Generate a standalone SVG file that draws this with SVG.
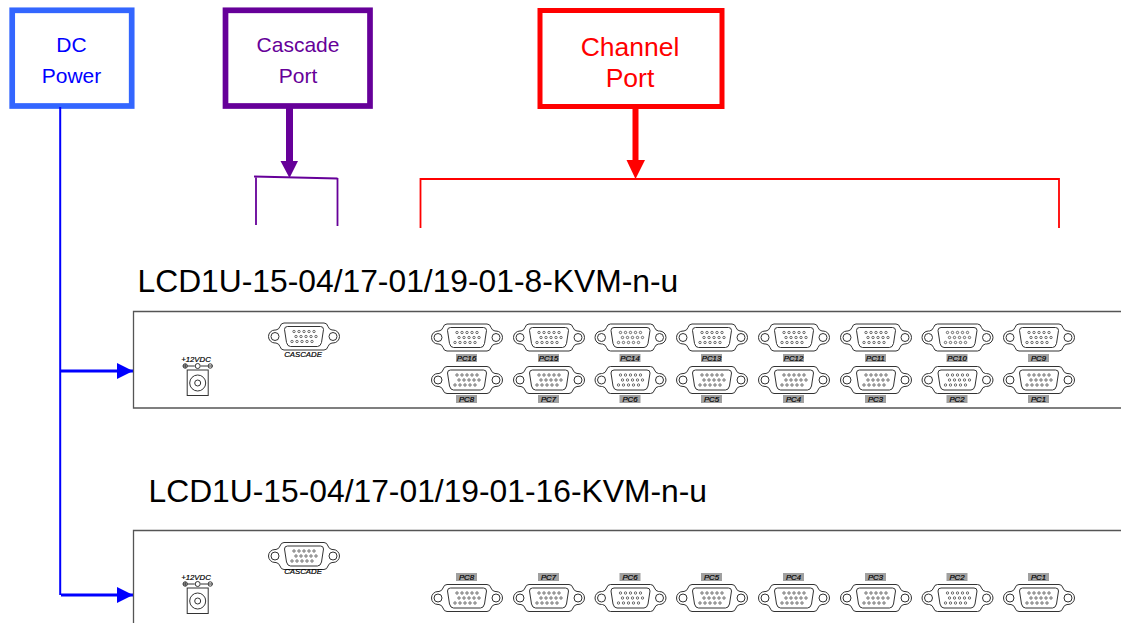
<svg xmlns="http://www.w3.org/2000/svg" width="1121" height="623" viewBox="0 0 1121 623">
<style>
text{font-family:"Liberation Sans",Arial,sans-serif}
.box{fill:#fff}
.title{font-size:31.800px;fill:#000}
.panel{fill:#fff;stroke:#555;stroke-width:1.300}
.ln{fill:none;stroke:#333;stroke-width:1}
.pl{font-size:7.800px;font-style:italic;fill:#000;text-anchor:middle;stroke:#000;stroke-width:.2}
.tag{fill:#a0a0a0}
.pin{fill:none;stroke:#333;stroke-width:.7}
</style>
<defs>
<g id="db15">
<path class="ln" d="M-20-13.500H20Q23-13.500 24-10Q25-7 28-6.500H29A6.500 6.500 0 0 1 29 6.500H28Q25 7 24 10Q23 13.500 20 13.500H-20Q-23 13.500-24 10Q-25 7-28 6.500H-29A6.500 6.500 0 0 1-29-6.500H-28Q-25-7-24-10Q-23-13.500-20-13.500Z"/>
<circle class="ln" cx="-29" cy="0" r="4"/>
<circle class="ln" cx="29" cy="0" r="4"/>
<path class="ln" d="M-16.500-10H16.500Q19.500-10 19.500-7L17.500 6Q16.500 10 13.500 10H-13.500Q-16.500 10-17.500 6L-19.500-7Q-19.500-10-16.500-10Z"/>
<g class="pin">
<circle cx="-10" cy="-5" r="1.200"/><circle cx="-5" cy="-5" r="1.200"/><circle cx="0" cy="-5" r="1.200"/><circle cx="5" cy="-5" r="1.200"/><circle cx="10" cy="-5" r="1.200"/>
<circle cx="-8" cy="0" r="1.200"/><circle cx="-3" cy="0" r="1.200"/><circle cx="2" cy="0" r="1.200"/><circle cx="7" cy="0" r="1.200"/><circle cx="12" cy="0" r="1.200"/>
<circle cx="-12" cy="5" r="1.200"/><circle cx="-7" cy="5" r="1.200"/><circle cx="-2" cy="5" r="1.200"/><circle cx="3" cy="5" r="1.200"/><circle cx="8" cy="5" r="1.200"/>
</g>
</g>
<g id="jack">
<rect class="ln" x="-10.500" y="0" width="21" height="25.500"/>
<circle class="ln" cx="0" cy="13" r="8"/>
<circle class="ln" cx="0" cy="13" r="3"/>
<path class="ln" d="M-10-4H-3M3-4H10"/>
<circle class="ln" cx="-12.500" cy="-4" r="2.200"/>
<path class="ln" d="M-14.700-4H-10.300M-12.500-6.200V-1.800"/>
<circle class="ln" cx="12.500" cy="-4" r="2.200"/>
<path class="ln" d="M10.300-4H14.700"/>
<circle class="ln" cx="0" cy="-4" r="2.500"/>
</g>
<marker id="ab" markerUnits="userSpaceOnUse" markerWidth="20" markerHeight="16" refX="16" refY="8" orient="auto"><path d="M0 0L16 8L0 16Z" fill="#0000ff"/></marker>
</defs>

<g id="node-dc-power">
<rect class="box" x="12.200" y="10.300" width="119.500" height="95.700" stroke="#3366ff" stroke-width="5.700"/>
<text x="71.500" y="51.500" font-size="21" fill="#0000ff" text-anchor="middle">DC</text>
<text x="71.500" y="83" font-size="21" fill="#0000ff" text-anchor="middle">Power</text>
</g>
<g id="node-cascade-port">
<rect class="box" x="225.500" y="10.300" width="144.500" height="95.700" stroke="#660099" stroke-width="5.700"/>
<text x="298" y="51.500" font-size="21" fill="#660099" text-anchor="middle">Cascade</text>
<text x="298" y="83" font-size="21" fill="#660099" text-anchor="middle">Port</text>
</g>
<g id="node-channel-port">
<rect class="box" x="540" y="10.500" width="182" height="96" stroke="#ff0000" stroke-width="5"/>
<text x="630" y="56" font-size="26.500" fill="#ff0000" text-anchor="middle">Channel</text>
<text x="630" y="87" font-size="26.500" fill="#ff0000" text-anchor="middle">Port</text>
</g>

<g id="connectors">
<path d="M60.200 107V595" fill="none" stroke="#0000ff" stroke-width="2"/>
<path d="M61 371H133" fill="none" stroke="#0000ff" stroke-width="3" marker-end="url(#ab)"/>
<path d="M61 595H133" fill="none" stroke="#0000ff" stroke-width="3" marker-end="url(#ab)"/>
<path d="M289.500 107V162" fill="none" stroke="#660099" stroke-width="7"/>
<path d="M280.500 161H298L289.500 178Z" fill="#660099"/>
<path d="M254 176.500L337.500 178.500M256 176.500V225M337.500 178V226" fill="none" stroke="#660099" stroke-width="1.800"/>
<path d="M635.500 107V162" fill="none" stroke="#ff0000" stroke-width="6"/>
<path d="M626.500 160H645L635.500 179Z" fill="#ff0000"/>
<path d="M420.500 228V179H1059V228" fill="none" stroke="#ff0000" stroke-width="1.800"/>
</g>

<g id="node-title-8">
<text class="title" x="137.500" y="292">LCD1U-15-04/17-01/19-01-8-KVM-n-u</text>
</g>
<g id="node-title-16">
<text class="title" x="148.500" y="502">LCD1U-15-04/17-01/19-01-16-KVM-n-u</text>
</g>

<g id="node-panel-8">
<path class="panel" d="M1121 311.500H133.500V408H1121"/>
<text class="pl" x="196" y="362">+12VDC</text>
<use href="#jack" x="197.700" y="370"/>
<use href="#db15" x="304" y="336.500"/>
<text class="pl" x="303" y="357">CASCADE</text>
<g id="tags-upper" class="tag">
<rect x="456" y="354" width="21" height="8"/><rect x="538" y="354" width="21" height="8"/><rect x="619.500" y="354" width="21" height="8"/><rect x="701" y="354" width="21" height="8"/><rect x="783" y="354" width="21" height="8"/><rect x="865" y="354" width="21" height="8"/><rect x="946.500" y="354" width="21" height="8"/><rect x="1028" y="354" width="21" height="8"/>
<rect x="456" y="395" width="21" height="8"/><rect x="538" y="395" width="21" height="8"/><rect x="619.500" y="395" width="21" height="8"/><rect x="701" y="395" width="21" height="8"/><rect x="783" y="395" width="21" height="8"/><rect x="865" y="395" width="21" height="8"/><rect x="946.500" y="395" width="21" height="8"/><rect x="1028" y="395" width="21" height="8"/>
</g>
<g id="ports-upper">
<use href="#db15" x="467" y="337.500"/><use href="#db15" x="549" y="337.500"/><use href="#db15" x="630.500" y="337.500"/><use href="#db15" x="712" y="337.500"/><use href="#db15" x="794" y="337.500"/><use href="#db15" x="876" y="337.500"/><use href="#db15" x="957.500" y="337.500"/><use href="#db15" x="1039" y="337.500"/>
<use href="#db15" x="467" y="380"/><use href="#db15" x="549" y="380"/><use href="#db15" x="630.500" y="380"/><use href="#db15" x="712" y="380"/><use href="#db15" x="794" y="380"/><use href="#db15" x="876" y="380"/><use href="#db15" x="957.500" y="380"/><use href="#db15" x="1039" y="380"/>
</g>
<g>
<text class="pl" x="466.500" y="361">PC16</text><text class="pl" x="548.500" y="361">PC15</text><text class="pl" x="630" y="361">PC14</text><text class="pl" x="711.500" y="361">PC13</text><text class="pl" x="793.500" y="361">PC12</text><text class="pl" x="875.500" y="361">PC11</text><text class="pl" x="957" y="361">PC10</text><text class="pl" x="1038.500" y="361">PC9</text>
<text class="pl" x="466.500" y="402">PC8</text><text class="pl" x="548.500" y="402">PC7</text><text class="pl" x="630" y="402">PC6</text><text class="pl" x="711.500" y="402">PC5</text><text class="pl" x="793.500" y="402">PC4</text><text class="pl" x="875.500" y="402">PC3</text><text class="pl" x="957" y="402">PC2</text><text class="pl" x="1038.500" y="402">PC1</text>
</g>
</g>

<g id="node-panel-16">
<path class="panel" d="M1121 530.500H133.500V623"/>
<text class="pl" x="196" y="580">+12VDC</text>
<use href="#jack" x="197.700" y="588"/>
<use href="#db15" x="304" y="556"/>
<text class="pl" x="303" y="574">CASCADE</text>
<g class="tag">
<rect x="456" y="573" width="21" height="8"/><rect x="538" y="573" width="21" height="8"/><rect x="619.500" y="573" width="21" height="8"/><rect x="701" y="573" width="21" height="8"/><rect x="783" y="573" width="21" height="8"/><rect x="865" y="573" width="21" height="8"/><rect x="946.500" y="573" width="21" height="8"/><rect x="1028" y="573" width="21" height="8"/>
</g>
<use href="#db15" x="467" y="598"/><use href="#db15" x="549" y="598"/><use href="#db15" x="630.500" y="598"/><use href="#db15" x="712" y="598"/><use href="#db15" x="794" y="598"/><use href="#db15" x="876" y="598"/><use href="#db15" x="957.500" y="598"/><use href="#db15" x="1039" y="598"/>
<g>
<text class="pl" x="466.500" y="580">PC8</text><text class="pl" x="548.500" y="580">PC7</text><text class="pl" x="630" y="580">PC6</text><text class="pl" x="711.500" y="580">PC5</text><text class="pl" x="793.500" y="580">PC4</text><text class="pl" x="875.500" y="580">PC3</text><text class="pl" x="957" y="580">PC2</text><text class="pl" x="1038.500" y="580">PC1</text>
</g>
</g>
</svg>
